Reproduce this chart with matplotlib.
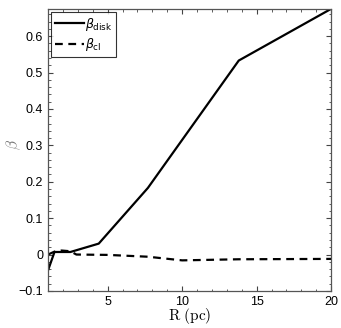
import matplotlib
matplotlib.use("Agg")
import matplotlib.pyplot as plt
from matplotlib.ticker import MultipleLocator
from matplotlib.font_manager import FontProperties

plt.rcParams['mathtext.fontset'] = 'cm'
plt.rcParams['font.family'] = ['Liberation Sans', 'DejaVu Sans']

# beta_disk
r_disk = [1.0, 1.43, 2.5, 4.4, 7.7, 13.8, 20.0]
beta_disk = [-0.043, 0.007, 0.007, 0.030, 0.183, 0.533, 0.675]

# beta_cl
r_cl = [1.0, 1.43, 1.9, 2.5, 2.9, 5.0, 7.7, 10.0, 13.8, 20.0]
beta_cl = [0.0, 0.008, 0.011, 0.009, 0.0, -0.001, -0.006, -0.016, -0.013, -0.012]

fig = plt.figure(figsize=(3.41, 3.28), dpi=100)
ax = fig.add_axes([0.141, 0.113, 0.830, 0.860])

ax.plot(r_disk, beta_disk, 'k-', lw=1.6, label=r'$\beta_{\rm disk}$')
ax.plot(r_cl, beta_cl, 'k--', lw=1.6, dashes=(3.5, 2.5), label=r'$\beta_{\rm cl}$')

ax.set_xlim(1, 20)
ax.set_ylim(-0.1, 0.675)
ax.set_xticks([5, 10, 15, 20])
ax.set_yticks([-0.1, 0, 0.1, 0.2, 0.3, 0.4, 0.5, 0.6])
ax.set_yticklabels(['\u22120.1', '0', '0.1', '0.2', '0.3', '0.4', '0.5', '0.6'])
ax.xaxis.set_minor_locator(MultipleLocator(1))
ax.yaxis.set_minor_locator(MultipleLocator(0.02))
ax.tick_params(which='both', direction='in', top=True, right=True, labelsize=9, colors='#444444', labelcolor='black')
ax.tick_params(which='major', length=3.5)
ax.tick_params(which='minor', length=1.8)
for s in ax.spines.values():
    s.set_color('#555555')
    s.set_linewidth(0.9)

ax.set_xlabel(r'$\mathrm{R\ (pc)}$', fontsize=11, labelpad=-1)
ax.set_ylabel(r'$\beta$', fontsize=11, color='#777777')
ax.yaxis.set_label_coords(-0.09, 0.52)

leg_font = FontProperties(family=['Liberation Sans', 'DejaVu Sans'], size=9, math_fontfamily='dejavusans')
leg = ax.legend(loc='upper left', prop=leg_font, fancybox=False, edgecolor='black',
                handlelength=2.3, handletextpad=0.1, borderpad=0.3,
                borderaxespad=0.25, labelspacing=0.3)
leg.get_frame().set_linewidth(0.8)

fig.savefig('out.png', dpi=100)
